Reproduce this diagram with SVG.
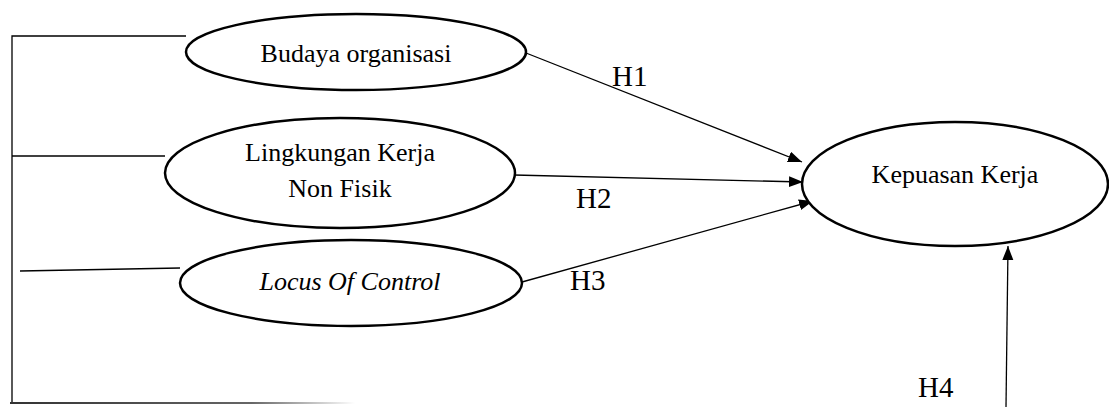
<svg xmlns="http://www.w3.org/2000/svg" width="1109" height="407" viewBox="0 0 1109 407">
<style>
.node{fill:#fff;stroke:#000;stroke-width:2.5}
.t{font-family:"Liberation Serif","Times New Roman",serif;font-size:26px;fill:#000;text-anchor:middle}
.h{font-family:"Liberation Serif","Times New Roman",serif;font-size:29px;fill:#000}
.c{stroke:#000;stroke-width:1.3;fill:none}
.a{stroke:#000;stroke-width:1.3;fill:none;marker-end:url(#arr)}
</style>
<defs>
<marker id="arr" markerUnits="userSpaceOnUse" markerWidth="15" markerHeight="12" refX="14" refY="5.5" orient="auto">
<path d="M0,0 L14,5.5 L0,11 z" fill="#000"/>
</marker>
<linearGradient id="fade" gradientUnits="userSpaceOnUse" x1="10" y1="0" x2="355" y2="0">
<stop offset="0" stop-color="#333"/>
<stop offset="0.7" stop-color="#666"/>
<stop offset="1" stop-color="#fff"/>
</linearGradient>
</defs>
<g id="connectors">
<polyline class="c" points="186,36 12,36 12,403"/>
<line x1="10" y1="403" x2="355" y2="403" stroke="url(#fade)" stroke-width="2"/>
<line class="c" x1="12" y1="156" x2="165" y2="156"/>
<line class="c" x1="20" y1="271" x2="180" y2="268"/>
<line class="a" x1="526" y1="53" x2="802" y2="162"/>
<line class="a" x1="514" y1="175" x2="803" y2="182"/>
<line class="a" x1="522" y1="282" x2="813" y2="201"/>
<line class="a" x1="1006" y1="407" x2="1008" y2="246"/>
<text class="h" x="612" y="86">H1</text>
<text class="h" x="576" y="208">H2</text>
<text class="h" x="570" y="290">H3</text>
<text class="h" x="918" y="397">H4</text>
</g>
<g id="budaya">
<ellipse class="node" cx="356" cy="52" rx="170" ry="38"/>
<text class="t" x="356" y="62">Budaya organisasi</text>
</g>
<g id="lingkungan">
<ellipse class="node" cx="340" cy="173" rx="175" ry="55"/>
<text class="t" x="340" y="161">Lingkungan Kerja</text>
<text class="t" x="340" y="197">Non Fisik</text>
</g>
<g id="locus">
<ellipse class="node" cx="351" cy="283" rx="171" ry="43"/>
<text class="t" x="350" y="290" font-style="italic">Locus Of Control</text>
</g>
<g id="kepuasan">
<ellipse class="node" cx="955" cy="184" rx="153" ry="62"/>
<text class="t" x="955" y="183">Kepuasan Kerja</text>
</g>
</svg>
